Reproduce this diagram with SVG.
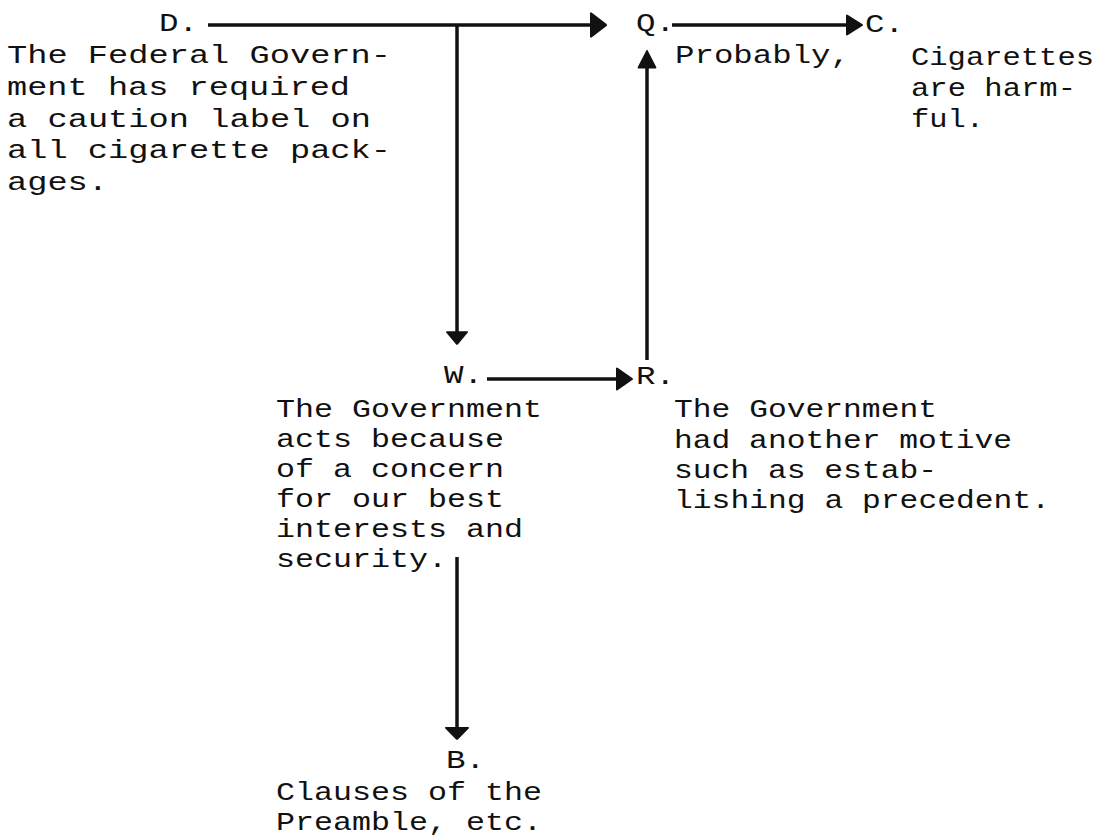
<svg xmlns="http://www.w3.org/2000/svg" xmlns:xlink="http://www.w3.org/1999/xlink" width="1101" height="837" viewBox="0 0 1101 837">
  <style>
    text { font-family: "Liberation Mono", "Courier New", monospace; font-size: 26px; fill: #111; }
    .line { stroke: #111; stroke-width: 3.5; fill: none; }
    .head { fill: #111; stroke: #111; stroke-width: 2; stroke-linejoin: round; }
  </style>
  <defs>
    <!-- solid arrowhead, pointing right, tip at origin -->
    <path id="ah" class="head" d="M0,0 L-15,-10 L-15,10 Z"/>
  </defs>
  <rect width="1101" height="837" fill="#fff"/>

  <g id="connectors">
    <!-- D to Q -->
    <line class="line" x1="208" y1="25" x2="596" y2="25"/>
    <use xlink:href="#ah" transform="translate(606,25) scale(1,1.15)"/>
    <!-- branch down to W -->
    <line class="line" x1="457" y1="25" x2="457" y2="336"/>
    <use xlink:href="#ah" transform="translate(457,344) rotate(90) scale(0.8,1)"/>
    <!-- Q to C -->
    <line class="line" x1="672" y1="25" x2="852" y2="25"/>
    <use xlink:href="#ah" transform="translate(862,25) scale(1,0.95)"/>
    <!-- W to R -->
    <line class="line" x1="487" y1="379" x2="622" y2="379"/>
    <use xlink:href="#ah" transform="translate(632,379) scale(1,1.05)"/>
    <!-- R up to Q -->
    <line class="line" x1="647" y1="360" x2="647" y2="62"/>
    <use xlink:href="#ah" transform="translate(647,51) rotate(-90) scale(1.1,0.85)"/>
    <!-- W down to B -->
    <line class="line" x1="457" y1="557" x2="457" y2="732"/>
    <use xlink:href="#ah" transform="translate(457,739) rotate(90) scale(0.75,1.1)"/>
  </g>

  <!-- typewriter pitch: each line is stretched to its character count -->
  <g id="node-D">
    <text x="159" y="31" textLength="39" lengthAdjust="spacingAndGlyphs">D.</text>
    <text x="7" y="63" textLength="384" lengthAdjust="spacingAndGlyphs">The Federal Govern-</text>
    <text x="7" y="95" textLength="343" lengthAdjust="spacingAndGlyphs">ment has required</text>
    <text x="7" y="127" textLength="364" lengthAdjust="spacingAndGlyphs">a caution label on</text>
    <text x="7" y="158" textLength="384" lengthAdjust="spacingAndGlyphs">all cigarette pack-</text>
    <text x="7" y="190" textLength="101" lengthAdjust="spacingAndGlyphs">ages.</text>
  </g>

  <g id="node-Q">
    <text x="636" y="31" textLength="39" lengthAdjust="spacingAndGlyphs">Q.</text>
    <text x="675" y="63" textLength="175" lengthAdjust="spacingAndGlyphs">Probably,</text>
  </g>

  <g id="node-C">
    <text x="865" y="32" textLength="39" lengthAdjust="spacingAndGlyphs">C.</text>
    <text x="911" y="65" textLength="183" lengthAdjust="spacingAndGlyphs">Cigarettes</text>
    <text x="911" y="96" textLength="165" lengthAdjust="spacingAndGlyphs">are harm-</text>
    <text x="911" y="127" textLength="73" lengthAdjust="spacingAndGlyphs">ful.</text>
  </g>

  <g id="node-W">
    <text x="444" y="383" textLength="39" lengthAdjust="spacingAndGlyphs">W.</text>
    <text x="276" y="417" textLength="266" lengthAdjust="spacingAndGlyphs">The Government</text>
    <text x="276" y="447" textLength="228" lengthAdjust="spacingAndGlyphs">acts because</text>
    <text x="276" y="477" textLength="228" lengthAdjust="spacingAndGlyphs">of a concern</text>
    <text x="276" y="507" textLength="228" lengthAdjust="spacingAndGlyphs">for our best</text>
    <text x="276" y="537" textLength="247" lengthAdjust="spacingAndGlyphs">interests and</text>
    <text x="276" y="567" textLength="171" lengthAdjust="spacingAndGlyphs">security.</text>
  </g>

  <g id="node-R">
    <text x="636" y="384" textLength="39" lengthAdjust="spacingAndGlyphs">R.</text>
    <text x="674" y="417" textLength="263" lengthAdjust="spacingAndGlyphs">The Government</text>
    <text x="674" y="448" textLength="338" lengthAdjust="spacingAndGlyphs">had another motive</text>
    <text x="674" y="478" textLength="263" lengthAdjust="spacingAndGlyphs">such as estab-</text>
    <text x="674" y="508" textLength="376" lengthAdjust="spacingAndGlyphs">lishing a precedent.</text>
  </g>

  <g id="node-B">
    <text x="446" y="768" textLength="39" lengthAdjust="spacingAndGlyphs">B.</text>
    <text x="276" y="800" textLength="266" lengthAdjust="spacingAndGlyphs">Clauses of the</text>
    <text x="276" y="830" textLength="266" lengthAdjust="spacingAndGlyphs">Preamble, etc.</text>
  </g>
</svg>
